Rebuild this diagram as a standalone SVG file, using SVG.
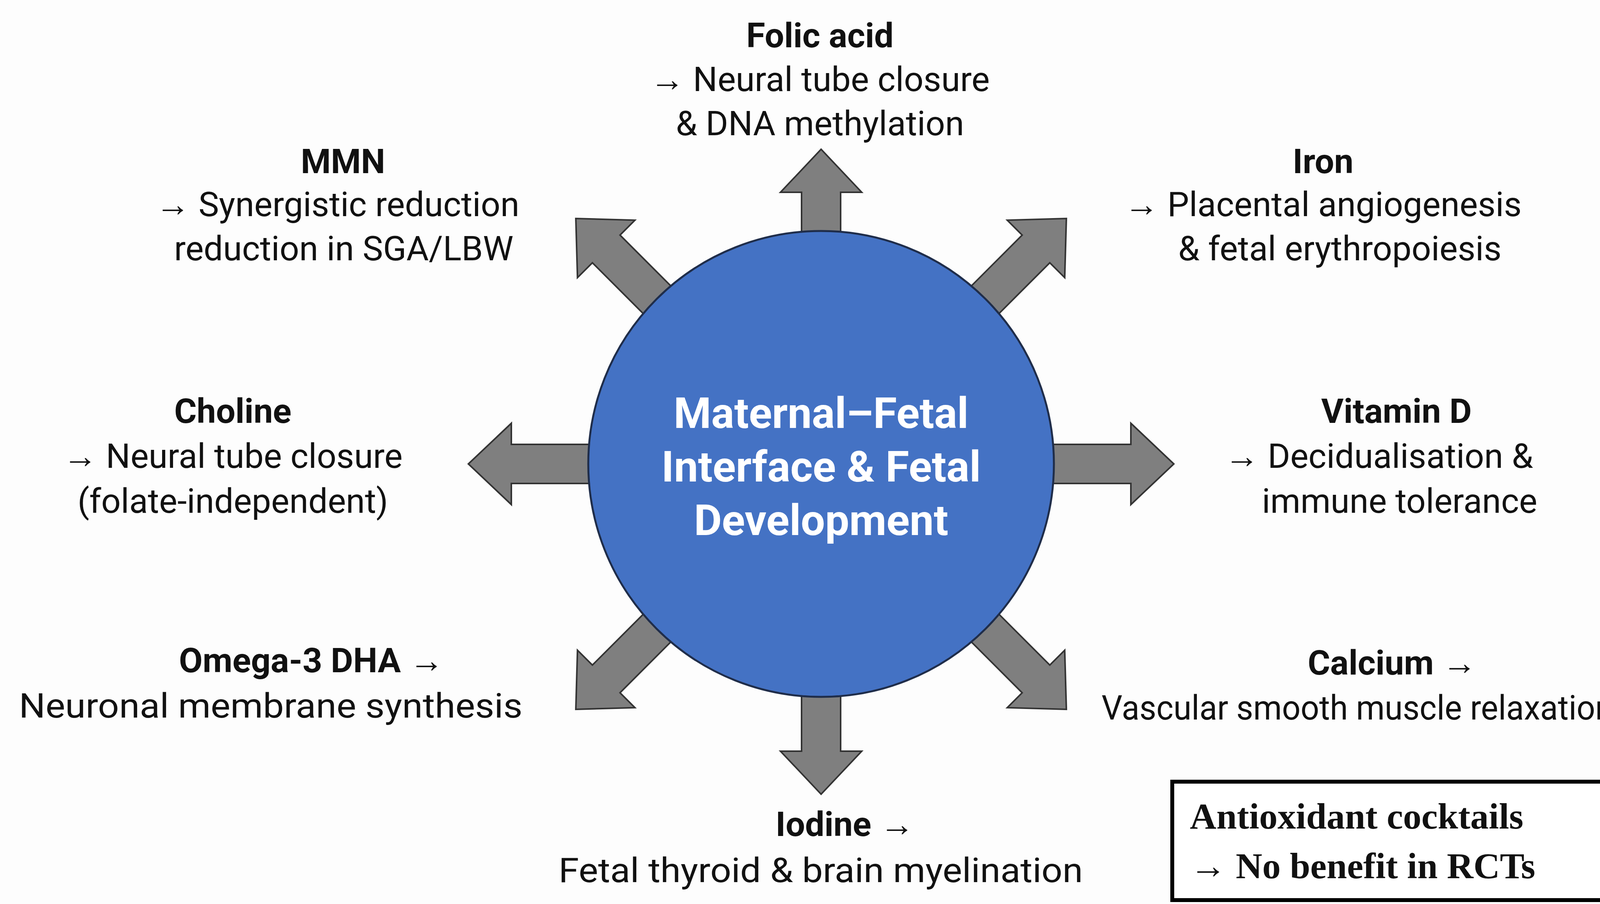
<svg xmlns="http://www.w3.org/2000/svg" width="4187" height="2313" viewBox="0 0 4187 2313">
<style>
.t{font-family:Roboto,"Liberation Sans",sans-serif;font-size:88px;fill:#111;text-anchor:middle}
.b{font-weight:bold}
.arr{fill:#7f7f7f;stroke:#333;stroke-width:4;stroke-linejoin:miter}
.c{font-family:Roboto,"Liberation Sans",sans-serif;font-size:110px;font-weight:bold;fill:#fff;text-anchor:middle}
.s{font-family:"Liberation Serif",serif;font-size:94px;font-weight:bold;fill:#111}
</style>
<rect width="4187" height="2313" fill="#fdfdfd"/>
<g id="connectors">
<polygon class="arr" transform="translate(2102,1187) rotate(-90)" points="500,-50 695,-50 695,-104 805,0 695,104 695,50 500,50"/>
<polygon class="arr" transform="translate(2102,1187) rotate(90)" points="500,-50 735,-50 735,-104 845,0 735,104 735,50 500,50"/>
<polygon class="arr" transform="translate(2102,1187) rotate(180)" points="500,-50 793,-50 793,-104 903,0 793,104 793,50 500,50"/>
<polygon class="arr" transform="translate(2102,1187) rotate(0)" points="500,-50 793,-50 793,-104 903,0 793,104 793,50 500,50"/>
<polygon class="arr" transform="translate(2102,1187) rotate(-135)" points="500,-50 778,-50 778,-104 888,0 778,104 778,50 500,50"/>
<polygon class="arr" transform="translate(2102,1187) rotate(-45)" points="500,-50 778,-50 778,-104 888,0 778,104 778,50 500,50"/>
<polygon class="arr" transform="translate(2102,1187) rotate(135)" points="500,-50 778,-50 778,-104 888,0 778,104 778,50 500,50"/>
<polygon class="arr" transform="translate(2102,1187) rotate(45)" points="500,-50 778,-50 778,-104 888,0 778,104 778,50 500,50"/>
</g>
<g id="center">
<circle cx="2102" cy="1187" r="596" fill="#4472c4" stroke="#1f2d4a" stroke-width="5"/>
<text class="c" x="2102" y="1095">Maternal–Fetal</text>
<text class="c" x="2102" y="1232">Interface &amp; Fetal</text>
<text class="c" x="2102" y="1369">Development</text>
</g>
<g id="folic">
<text class="t b" x="2099" y="121">Folic acid</text>
<text class="t" x="2099" y="233">→ Neural tube closure</text>
<text class="t" x="2099" y="346">&amp; DNA methylation</text>
</g>
<g id="mmn">
<text class="t b" x="878" y="443">MMN</text>
<text class="t" x="864" y="553">→ Synergistic reduction</text>
<text class="t" x="880" y="666">reduction in SGA/LBW</text>
</g>
<g id="iron">
<text class="t b" x="3387" y="443">Iron</text>
<text class="t" x="3387" y="553">→ Placental angiogenesis</text>
<text class="t" x="3430" y="666">&amp; fetal erythropoiesis</text>
</g>
<g id="choline">
<text class="t b" x="596" y="1082">Choline</text>
<text class="t" x="596" y="1197">→ Neural tube closure</text>
<text class="t" x="596" y="1312">(folate-independent)</text>
</g>
<g id="vitd">
<text class="t b" x="3575" y="1082">Vitamin D</text>
<text class="t" x="3530" y="1197">→ Decidualisation &amp;</text>
<text class="t" x="3583" y="1312">immune tolerance</text>
</g>
<g id="omega">
<text class="t b" x="797" y="1720">Omega-3 DHA →</text>
<text class="t" x="693" y="1836" textLength="1289" lengthAdjust="spacingAndGlyphs">Neuronal membrane synthesis</text>
</g>
<g id="calcium">
<text class="t b" x="3564" y="1726">Calcium →</text>
<text class="t" x="3475" y="1841" textLength="1310" lengthAdjust="spacingAndGlyphs">Vascular smooth muscle relaxation</text>
</g>
<g id="iodine">
<text class="t b" x="2163" y="2139">Iodine →</text>
<text class="t" x="2101" y="2257" textLength="1342" lengthAdjust="spacingAndGlyphs">Fetal thyroid &amp; brain myelination</text>
</g>
<g id="note">
<rect x="3001" y="2000" width="1154" height="303" fill="#fff" stroke="#000" stroke-width="10"/>
<text class="s" x="3046" y="2120">Antioxidant cocktails</text>
<text class="s" x="3046" y="2247">→ No benefit in RCTs</text>
</g>
</svg>
